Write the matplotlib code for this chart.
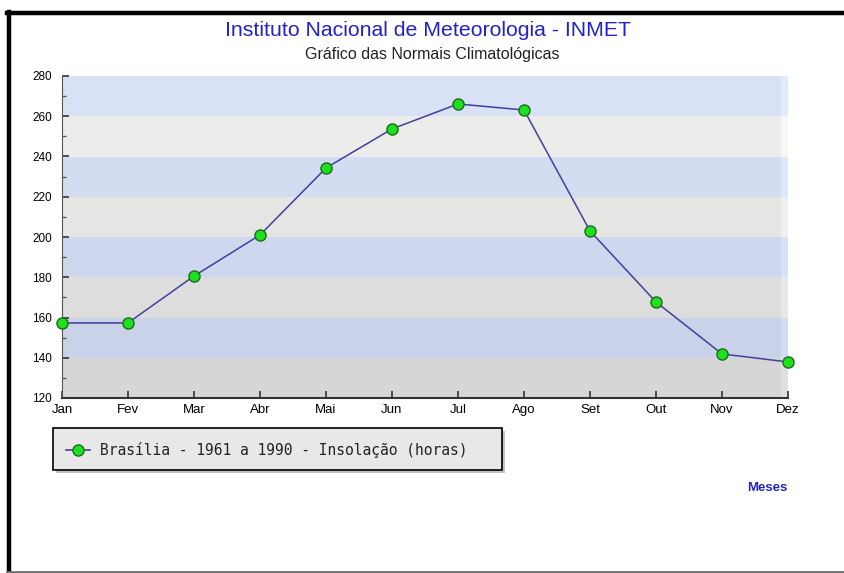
import numpy as np
import matplotlib
matplotlib.use('Agg')
import matplotlib.pyplot as plt
from matplotlib.lines import Line2D
from matplotlib.patches import Rectangle

months = ['Jan', 'Fev', 'Mar', 'Abr', 'Mai', 'Jun', 'Jul', 'Ago', 'Set', 'Out', 'Nov', 'Dez']
insolacao = [157.3, 157.3, 180.6, 201.0, 234.3, 253.7, 266.1, 263.1, 203.0, 167.7, 141.9, 137.9]
series_label = 'Brasília - 1961 a 1990 - Insolação (horas)'
y_ticks = [120, 140, 160, 180, 200, 220, 240, 260, 280]

plt.rcParams['font.family'] = ['Liberation Sans', 'DejaVu Sans']

W, H = 845, 573
fig = plt.figure(figsize=(W / 100, H / 100), dpi=100)
fig.patch.set_facecolor('white')


def fx(px):
    return px / W


def fy(py):
    return 1 - py / H


# frame around the picture
fig.add_artist(Line2D([fx(9), fx(9)], [fy(12), fy(573)], color='black', lw=3.2))
fig.add_artist(Line2D([fx(7), fx(845)], [fy(13), fy(13)], color='black', lw=3.2))
fig.add_artist(Line2D([fx(7), fx(845)], [fy(571.5), fy(571.5)], color='#707070', lw=2))

ax = fig.add_axes([fx(62), fy(398), fx(788) - fx(62), fy(76) - fy(398)])
x = np.arange(len(months))

# alternating bands, blue / gray, darker towards the bottom
n_bands = len(y_ticks) - 1
for i in range(n_bands):
    t = i / (n_bands - 1)
    if i % 2 == 1:
        c0, c1 = np.array([0xc8, 0xcf, 0xe8]), np.array([0xd9, 0xe1, 0xf6])
    else:
        c0, c1 = np.array([0xd6, 0xd6, 0xd6]), np.array([0xf0, 0xf0, 0xee])
    col = (c0 + (c1 - c0) * t) / 255
    ax.axhspan(y_ticks[i], y_ticks[i + 1], xmin=0, xmax=0.99, color=col, lw=0, zorder=0)
    ax.axhspan(y_ticks[i], y_ticks[i + 1], xmin=0.99, xmax=1, color=np.minimum(col + 0.04, 1), lw=0, zorder=0)

ax.plot(x, insolacao, color='#40409a', lw=1.1, zorder=3, clip_on=False)
ax.plot(x, insolacao, ls='none', marker='o', ms=8, mfc='#1ee01e', mec='#1d6a1d', mew=1.0,
        zorder=4, clip_on=False)

ax.set_xlim(0, len(months) - 1)
ax.set_ylim(120, 280)
ax.set_xticks(x)
ax.set_xticklabels(months, fontsize=9.5)
ax.set_yticks(y_ticks)
ax.set_yticklabels([str(v) for v in y_ticks], fontsize=8.5)
ax.set_yticks(np.arange(130, 280, 20), minor=True)
ax.tick_params(axis='y', which='major', direction='in', length=5, width=1.2, pad=7, colors='#333333',
               labelcolor='black')
ax.tick_params(axis='y', which='minor', direction='in', length=3, width=1, colors='#555555')
ax.tick_params(axis='x', which='major', direction='in', length=5, width=1.2, pad=4.5, colors='#333333',
               labelcolor='black')
for s in ['top', 'right']:
    ax.spines[s].set_visible(False)
ax.spines['left'].set_color('#555555')
ax.spines['bottom'].set_color('#333333')
ax.spines['bottom'].set_linewidth(1.5)

# titles
fig.text(fx(428), fy(30), 'Instituto Nacional de Meteorologia - INMET', color='#2222c8',
         fontsize=15.3, ha='center', va='center')
fig.text(fx(432), fy(55), 'Gráfico das Normais Climatológicas', color='#222222',
         fontsize=11.5, ha='center', va='center')
fig.text(fx(767), fy(488), 'Meses', color='#2222c8', fontsize=9.5, fontweight='bold',
         ha='center', va='center')

# legend box with shadow
fig.add_artist(Rectangle((fx(56), fy(473)), fx(502) - fx(53), fy(428) - fy(470),
                         facecolor='#9a9a9a', edgecolor='none', alpha=0.6))
fig.add_artist(Rectangle((fx(53), fy(470)), fx(502) - fx(53), fy(428) - fy(470),
                         facecolor='#e8e8e8', edgecolor='black', lw=1.2))
fig.add_artist(Line2D([fx(66), fx(90)], [fy(450), fy(450)], color='#40409a', lw=1.2))
fig.add_artist(Line2D([fx(78)], [fy(450)], marker='o', ms=8, mfc='#1ee01e', mec='#1d6a1d',
                      mew=1.0, ls='none'))
fig.text(fx(100), fy(450), series_label, family='DejaVu Sans Mono', fontsize=10.5,
         color='#222222', ha='left', va='center')

fig.savefig('out.png', dpi=100)
